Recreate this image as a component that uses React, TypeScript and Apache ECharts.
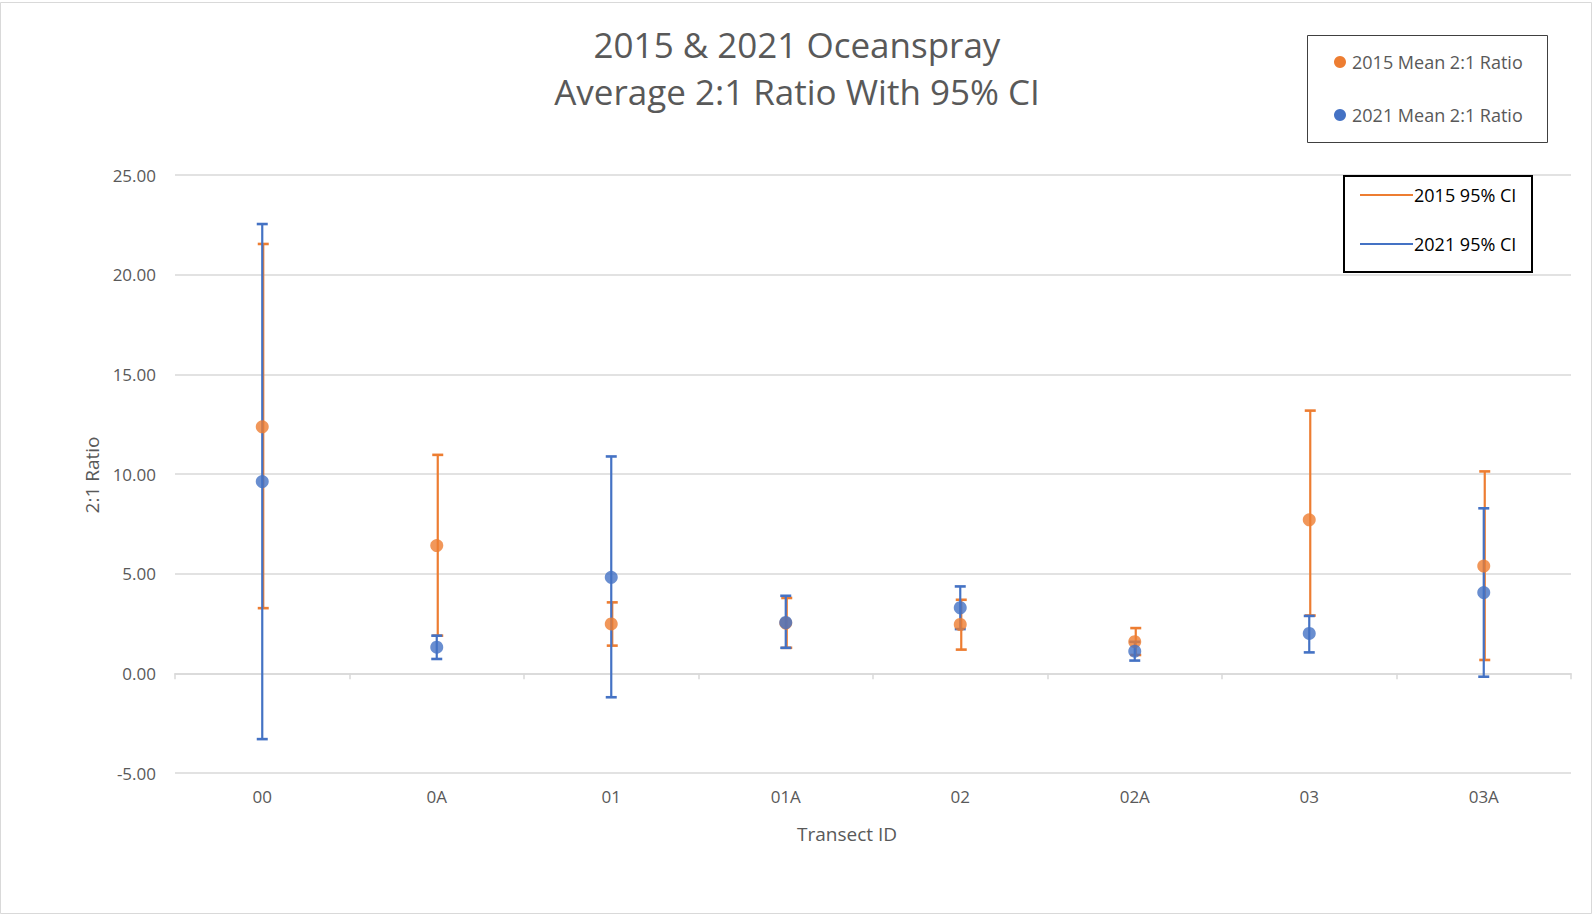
import React, { useEffect, useRef } from "react";
import * as echarts from "echarts";

const categories = ["00", "0A", "01", "01A", "02", "02A", "03", "03A"];
const mean2015 = [12.37, 6.41, 2.48, 2.52, 2.45, 1.59, 7.7, 5.38];
const low2015 = [3.27, 1.89, 1.39, 1.28, 1.19, 0.92, 2.9, 0.67];
const high2015 = [21.54, 10.96, 3.56, 3.78, 3.69, 2.27, 13.18, 10.13];
const mean2021 = [9.62, 1.31, 4.82, 2.55, 3.29, 1.11, 2.0, 4.05];
const low2021 = [-3.3, 0.72, -1.2, 1.28, 2.22, 0.64, 1.05, -0.17];
const high2021 = [22.54, 1.89, 10.88, 3.89, 4.36, 1.58, 2.88, 8.28];

const ORANGE = "#ED7D31";
const BLUE = "#4472C4";
const GRAY_TEXT = "#595959";
const GRID = "#d9d9d9";
const FONT = "'Open Sans', sans-serif";

function errorSeries(name: string, lows: number[], highs: number[], color: string, off: number, z: number) {
  return {
    name,
    type: "custom",
    z,
    xAxisIndex: 0,
    yAxisIndex: 0,
    encode: { x: 0, y: [1, 2] },
    data: categories.map((_, i) => [i, lows[i], highs[i]]),
    renderItem: (params: any, api: any) => {
      const xi = api.value(0);
      const lo = api.coord([xi, api.value(1)]);
      const hi = api.coord([xi, api.value(2)]);
      const x = lo[0] + off;
      const cw = 5.5;
      const st = { stroke: color, lineWidth: 2.2 };
      return {
        type: "group",
        children: [
          { type: "line", shape: { x1: x, y1: lo[1], x2: x, y2: hi[1] }, style: st },
          { type: "line", shape: { x1: x - cw, y1: lo[1], x2: x + cw, y2: lo[1] }, style: { stroke: color, lineWidth: 2.6 } },
          { type: "line", shape: { x1: x - cw, y1: hi[1], x2: x + cw, y2: hi[1] }, style: { stroke: color, lineWidth: 2.6 } },
        ],
      };
    },
  };
}

export default function App() {
  const ref = useRef<HTMLDivElement>(null);
  useEffect(() => {
    if (!ref.current) return;
    const chart = echarts.init(ref.current, null, { renderer: "svg" });
    chart.setOption({
      animation: false,
      backgroundColor: "#ffffff",
      textStyle: { fontFamily: FONT },
      grid: { left: 175, right: 23, top: 175, bottom: 142, containLabel: false },
      xAxis: [
        {
          type: "category",
          data: categories,
          position: "bottom",
          axisLine: { show: false, onZero: false },
          axisTick: { show: false },
          axisLabel: { color: GRAY_TEXT, fontSize: 17, margin: 15, fontFamily: FONT },
          splitLine: { show: false },
        },
        {
          type: "category",
          data: categories,
          position: "bottom",
          axisLine: { show: true, onZero: true, lineStyle: { color: GRID, width: 1.5 } },
          axisTick: { show: true, length: 6, lineStyle: { color: GRID, width: 1.5 } },
          axisLabel: { show: false },
          splitLine: { show: false },
        },
      ],
      yAxis: {
        type: "value",
        min: -5,
        max: 25,
        interval: 5,
        axisLine: { show: false },
        axisTick: { show: false },
        axisLabel: {
          color: GRAY_TEXT,
          fontSize: 17,
          margin: 19,
          fontFamily: FONT,
          formatter: (v: number) => v.toFixed(2),
        },
        splitLine: { lineStyle: { color: GRID, width: 1.5 } },
      },
      series: [
        errorSeries("2015 95% CI", low2015, high2015, ORANGE, 1, 2),
        errorSeries("2021 95% CI", low2021, high2021, BLUE, 0, 3),
        {
          name: "2015 Mean 2:1 Ratio",
          type: "scatter",
          z: 4,
          symbol: "circle",
          symbolSize: 13,
          itemStyle: { color: ORANGE },
          data: mean2015.map((v, i) => [i, v]),
        },
        {
          name: "2021 Mean 2:1 Ratio",
          type: "scatter",
          z: 5,
          symbol: "circle",
          symbolSize: 13,
          itemStyle: { color: BLUE },
          data: mean2021.map((v, i) => [i, v]),
        },
      ],
      graphic: [
        {
          type: "rect",
          z: 0,
          silent: true,
          shape: { x: 0.5, y: 2.5, width: 1591, height: 911 },
          style: { fill: "none", stroke: GRID, lineWidth: 1 },
        },
        {
          type: "text",
          x: 797,
          y: 44,
          style: {
            text: "2015 & 2021 Oceanspray",
            fill: GRAY_TEXT,
            font: `35px ${FONT}`,
            textAlign: "center",
            textVerticalAlign: "middle",
          },
        },
        {
          type: "text",
          x: 797,
          y: 91,
          style: {
            text: "Average 2:1 Ratio With 95% CI",
            fill: GRAY_TEXT,
            font: `35px ${FONT}`,
            textAlign: "center",
            textVerticalAlign: "middle",
          },
        },
        {
          type: "text",
          x: 91.5,
          y: 475,
          rotation: Math.PI / 2,
          style: {
            text: "2:1 Ratio",
            fill: GRAY_TEXT,
            font: `19px ${FONT}`,
            textAlign: "center",
            textVerticalAlign: "middle",
          },
        },
        {
          type: "text",
          x: 847,
          y: 834,
          style: {
            text: "Transect ID",
            fill: GRAY_TEXT,
            font: `19px ${FONT}`,
            textAlign: "center",
            textVerticalAlign: "middle",
          },
        },
        // Legend box 1
        {
          type: "rect",
          z: 10,
          shape: { x: 1307.5, y: 35.5, width: 240, height: 107 },
          style: { fill: "#ffffff", stroke: "#404040", lineWidth: 1 },
        },
        { type: "circle", z: 11, shape: { cx: 1340, cy: 62, r: 6 }, style: { fill: ORANGE } },
        {
          type: "text",
          z: 11,
          x: 1352,
          y: 62,
          style: { text: "2015 Mean 2:1 Ratio", fill: GRAY_TEXT, font: `18px ${FONT}`, textVerticalAlign: "middle" },
        },
        { type: "circle", z: 11, shape: { cx: 1340, cy: 115, r: 6 }, style: { fill: BLUE } },
        {
          type: "text",
          z: 11,
          x: 1352,
          y: 115,
          style: { text: "2021 Mean 2:1 Ratio", fill: GRAY_TEXT, font: `18px ${FONT}`, textVerticalAlign: "middle" },
        },
        // Legend box 2
        {
          type: "rect",
          z: 10,
          shape: { x: 1344, y: 176, width: 188, height: 96 },
          style: { fill: "#ffffff", stroke: "#000000", lineWidth: 2 },
        },
        { type: "line", z: 11, shape: { x1: 1360, y1: 195, x2: 1413, y2: 195 }, style: { stroke: ORANGE, lineWidth: 2 } },
        {
          type: "text",
          z: 11,
          x: 1414,
          y: 195,
          style: { text: "2015 95% CI", fill: "#000000", font: `18px ${FONT}`, textVerticalAlign: "middle" },
        },
        { type: "line", z: 11, shape: { x1: 1360, y1: 244, x2: 1413, y2: 244 }, style: { stroke: BLUE, lineWidth: 2 } },
        {
          type: "text",
          z: 11,
          x: 1414,
          y: 244,
          style: { text: "2021 95% CI", fill: "#000000", font: `18px ${FONT}`, textVerticalAlign: "middle" },
        },
      ],
    });
    return () => chart.dispose();
  }, []);
  return (
    <div
      ref={ref}
      style={{ position: "absolute", left: 0, top: 0, width: 1594, height: 915 }}
    />
  );
}
